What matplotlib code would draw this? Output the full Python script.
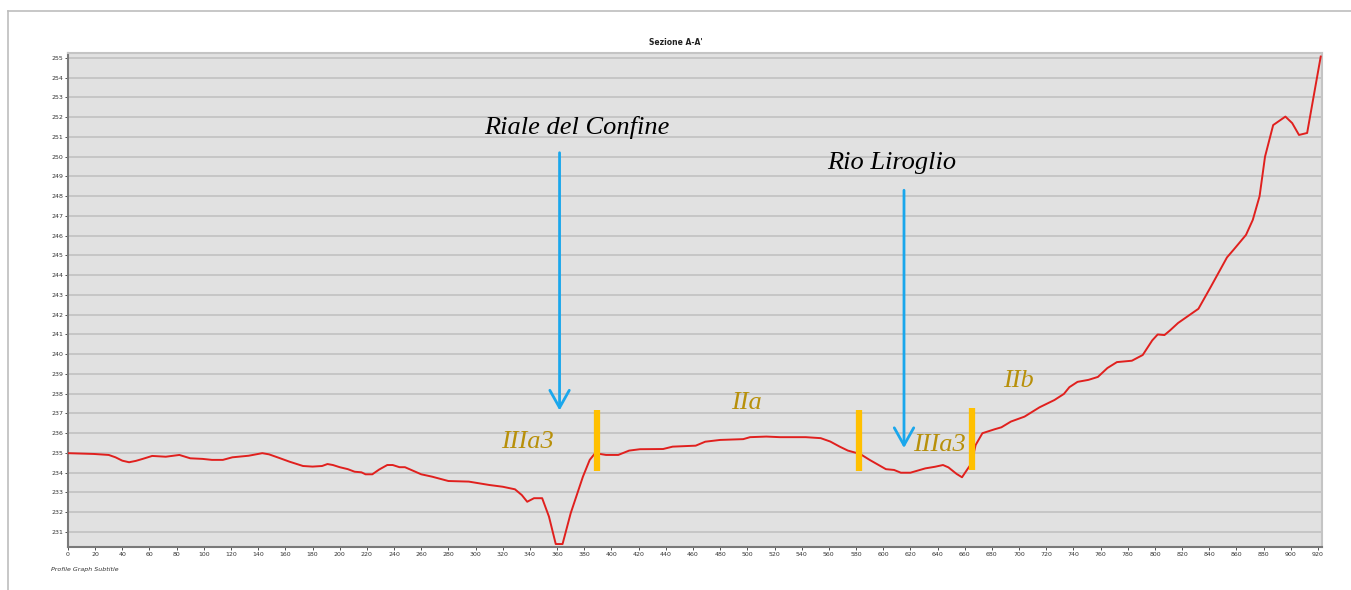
import numpy as np
import matplotlib.pyplot as plt
from matplotlib.lines import Line2D

# profilo altimetrico - distanza (m) e quota (m s.l.m.)
dist = [0, 19, 30, 35, 40, 45, 50, 55, 62, 72, 82, 90, 99, 106, 114, 121, 133, 143, 148,
        155, 163, 173, 180, 187, 191, 195, 200, 206, 211, 216, 219, 224, 229, 235, 239,
        244, 248, 260, 268, 280, 295, 310, 320, 329, 334, 338, 343, 349, 354, 359, 364,
        370, 379, 384, 388, 396, 405, 413, 421, 438, 445, 462, 469, 480, 497, 502, 514,
        524, 543, 554, 561, 568, 574, 583, 590, 602, 608, 613, 620, 631, 638, 644, 648,
        654, 658, 662, 665, 668, 673, 682, 687, 694, 704, 715, 726, 733, 737, 743, 751,
        758, 765, 772, 783, 791, 798, 802, 807, 811, 817, 832, 841, 853, 858, 867, 872,
        877, 881, 887, 896, 901, 906, 912, 922]
quota = [234.99, 234.95, 234.9, 234.78, 234.61, 234.53, 234.6, 234.7, 234.85, 234.81,
         234.9, 234.73, 234.7, 234.65, 234.65, 234.78, 234.86, 234.99, 234.93, 234.76,
         234.56, 234.34, 234.31, 234.34, 234.44, 234.39, 234.28, 234.18, 234.05, 234.02,
         233.92, 233.92, 234.16, 234.39, 234.39, 234.28, 234.28, 233.92, 233.8, 233.58,
         233.55, 233.38, 233.29, 233.16, 232.87, 232.53, 232.71, 232.71, 231.78, 230.39,
         230.39, 231.95, 233.8, 234.65, 234.99, 234.9, 234.9, 235.12, 235.19, 235.2,
         235.32, 235.37, 235.57, 235.66, 235.7, 235.8, 235.83, 235.8, 235.8, 235.75,
         235.58, 235.32, 235.12, 234.95, 234.65, 234.18, 234.14, 234.0, 234.0, 234.22,
         234.3, 234.39, 234.27, 233.94, 233.77, 234.18, 234.48, 235.4, 236.0, 236.2,
         236.3, 236.59, 236.84, 237.31, 237.68, 237.99, 238.33, 238.6, 238.7, 238.85,
         239.3, 239.6, 239.67, 239.96, 240.7, 241.0, 240.97, 241.2, 241.58, 242.3,
         243.4, 244.9, 245.3, 246.04, 246.8, 248.0, 250.0, 251.6, 252.03, 251.7, 251.1,
         251.2, 255.07]

# corsi d'acqua (frecce + nomi)
rivers = ["Riale del Confine", "Rio Liroglio"]
river_x = [361.8, 615.3]
river_top = [250.2, 248.3]
river_tip = [237.15, 235.25]
name_x = [374.5, 606.5]
name_y = [251.5, 249.7]

# unita' (etichette) e limiti (barre arancioni)
units = ["IIIa3", "IIa", "IIIa3", "IIb"]
unit_x = [319, 488, 622, 688]
unit_y = [235.55, 237.55, 235.4, 238.65]
limits_x = [389, 582, 665.5]
limits_lo = [234.1, 234.1, 234.15]
limits_hi = [237.2, 237.2, 237.3]

fig = plt.figure(figsize=(13.51, 5.90), dpi=100)
ax = fig.add_axes([0.0503, 0.0729, 0.9283, 0.8373])
ax.set_facecolor('#E1E1E1')

ax.plot(dist, quota, color='#E0201E', linewidth=1.4, zorder=3)

ax.set_xlim(0, 923)
ax.set_ylim(230.24, 255.25)
ax.set_xticks(np.arange(0, 921, 20))
ax.set_yticks(np.arange(231, 256, 1))
ax.tick_params(labelsize=4.5, colors='#333333', length=2, width=0.6, pad=1.5)
ax.grid(axis='y', color='#C6C6C6', linewidth=1.4)
ax.set_axisbelow(True)
for s in ['left', 'bottom']:
    ax.spines[s].set_color('#7A7A7A')
    ax.spines[s].set_linewidth(1.5)
for s in ['top', 'right']:
    ax.spines[s].set_color('#C4C4C4')
    ax.spines[s].set_linewidth(1.5)

# frecce blu
for xr, yt, yb in zip(river_x, river_top, river_tip):
    ax.annotate('', xy=(xr, yb), xytext=(xr, yt),
                arrowprops=dict(arrowstyle='->,head_length=1.25,head_width=0.7',
                                color='#1AA7EC', linewidth=2, shrinkA=0, shrinkB=0),
                zorder=5)
for name, xn, yn in zip(rivers, name_x, name_y):
    ax.text(xn, yn, name, family='Liberation Serif', style='italic',
            fontsize=19, ha='center', va='center', color='black')

# limiti
for xl, lo, hi in zip(limits_x, limits_lo, limits_hi):
    ax.plot([xl, xl], [lo, hi], color='#FFC000', linewidth=4.5, solid_capstyle='butt', zorder=4)

for u, xu, yu in zip(units, unit_x, unit_y):
    ax.text(xu, yu, u, family='Liberation Serif', style='italic', fontsize=19,
            color='#B8900A', ha='left', va='center', zorder=6)

fig.text(0.5, 0.928, "Sezione A-A'", fontsize=5.5, fontweight='bold', ha='center',
         va='center', color='#222222')
fig.text(0.038, 0.035, "Profile Graph Subtitle", fontsize=4.5, style='italic',
         ha='left', va='center', color='#333333')

# cornice esterna
fig.add_artist(Line2D([0.006, 1.0], [0.981, 0.981], color='#BDBDBD', linewidth=1.2,
                      transform=fig.transFigure))
fig.add_artist(Line2D([0.006, 0.006], [0.0, 0.981], color='#BDBDBD', linewidth=1.2,
                      transform=fig.transFigure))

fig.savefig('out.png', dpi=100)
